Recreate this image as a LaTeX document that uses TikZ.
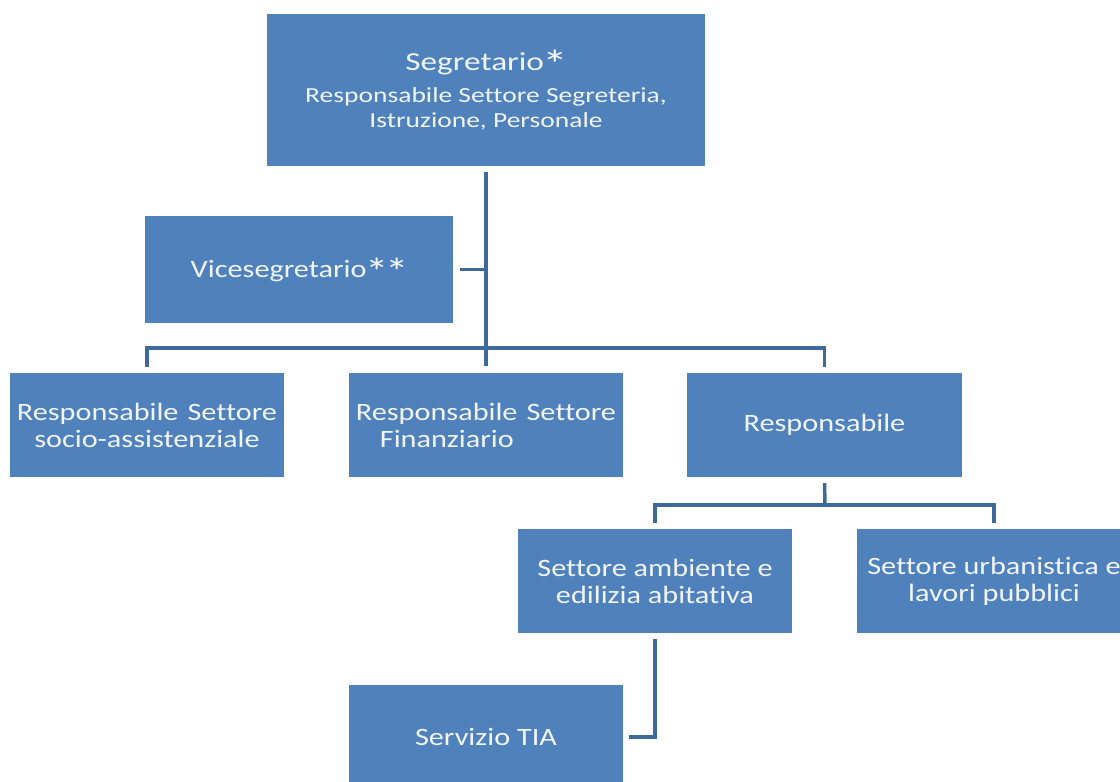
\documentclass[tikz,border=0pt]{standalone}
\usepackage{fontspec}
\usepackage{graphicx}
\setmainfont{Carlito}[FakeStretch=1.28,Ligatures={NoCommon}]
\newfontfamily\lowfont{Carlito}[FakeStretch=1.21,Ligatures={NoCommon}]
\definecolor{boxblue}{HTML}{4F81BD}
\definecolor{lineblue}{HTML}{3E6A9B}
\definecolor{txt}{HTML}{F2F5FA}
\newcommand{\gapsp}{\hspace*{9pt}}
\newcommand{\bigast}{\kern-1.5pt\raisebox{-0.31em}[0.8em][0pt]{\scalebox{1.55}{*}}\kern-1.5pt}
\begin{document}
\begin{tikzpicture}[x=1pt,y=-1pt,
  box/.style={fill=boxblue, draw=none, text=txt, font=\lowfont\fontsize{25}{27}\selectfont, align=center, inner sep=0pt},
  topbox/.style={box, font=\fontsize{21.5}{25}\selectfont},
  conn/.style={draw=lineblue, line width=3.5pt}]
\useasboundingbox (0,0) rectangle (1120,782);
\node[topbox, minimum width=438pt, minimum height=152pt] (seg) at (486,90) {{\fontsize{26}{30}\selectfont Segretario\bigast}\\[7pt]Responsabile Settore Segreteria,\\Istruzione, Personale};
\node[box, minimum width=308pt, minimum height=107pt] (vice) at (299,269.5) {Vicesegretario\bigast\bigast};
\node[box, minimum width=274pt, minimum height=104pt] (socio) at (147,425) {Responsabile\gapsp Settore\\socio-assistenziale};
\node[box, minimum width=274pt, minimum height=104pt, align=left] (fin) at (486,425) {Responsabile\gapsp Settore\\\hspace*{24pt}Finanziario};
\node[box, minimum width=275pt, minimum height=104pt] (resp) at (824.5,425) {Responsabile};
\node[box, minimum width=274pt, minimum height=104pt] (amb) at (655,581) {Settore ambiente e\\edilizia abitativa};
\node[box, minimum width=274pt, minimum height=104pt] (urb) at (994,581) {Settore urbanistica e\\lavori pubblici};
\node[box, minimum width=274pt, minimum height=104pt] (tia) at (486,737) {Servizio TIA};
\coordinate (j1) at (486,348);
\coordinate (j2) at (825,505);
\draw[conn] ([yshift=-6pt]seg.south) -- ([yshift=7pt]fin.north);
\draw[conn] ([yshift=6pt]socio.north) |- (j1) -| ([yshift=6pt]resp.north);
\draw[conn] ([xshift=7pt]vice.east) -- (vice.east -| seg.south);
\draw[conn] ([yshift=-6pt]resp.south) -- (j2);
\draw[conn] ([yshift=6pt]amb.north) |- (j2) -| ([yshift=6pt]urb.north);
\draw[conn] ([yshift=-6pt]amb.south) |- ([xshift=6pt]tia.east);
\end{tikzpicture}
\end{document}
